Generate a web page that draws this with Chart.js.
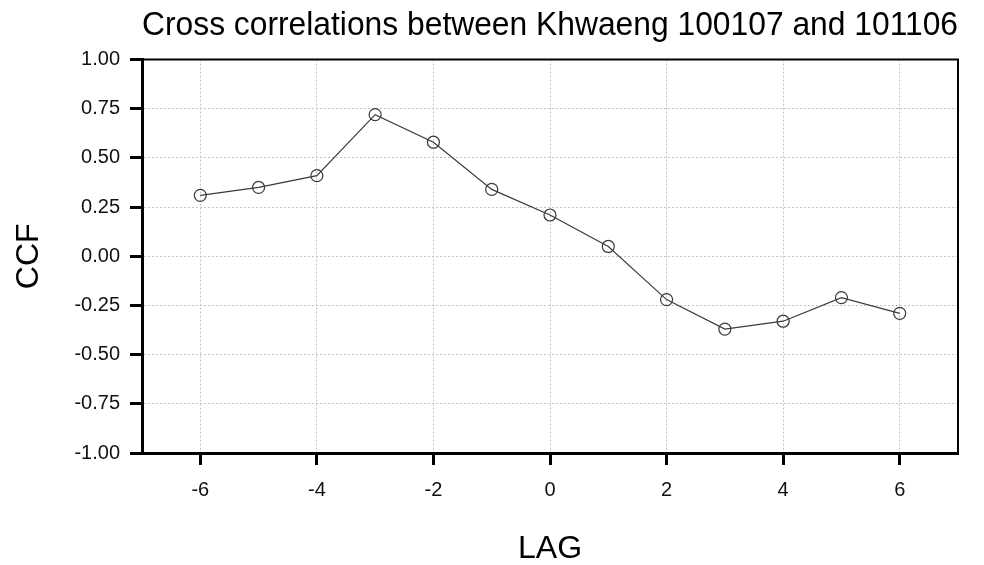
<!DOCTYPE html>
<html>
<head>
<meta charset="utf-8">
<script src="https://cdn.jsdelivr.net/npm/chart.js@4/dist/chart.umd.min.js"></script>
<style>
  html, body { margin: 0; padding: 0; background: #fff; }
  #wrap { width: 984px; height: 565px; }
</style>
</head>
<body>
<div id="wrap"><canvas id="ccfChart" width="984" height="565"></canvas></div>
<script>
// Data
const lags = [-6, -5, -4, -3, -2, -1, 0, 1, 2, 3, 4, 5, 6];
const ccf = [0.31, 0.35, 0.41, 0.72, 0.58, 0.34, 0.21, 0.05, -0.22, -0.37, -0.33, -0.21, -0.29];
const xTicks = [-6, -4, -2, 0, 2, 4, 6];
const yTicks = [-1, -0.75, -0.5, -0.25, 0, 0.25, 0.5, 0.75, 1];

const FONT = "'Liberation Sans', Arial, sans-serif";

// Closed box: top and right edges of the plot frame
const frameBox = {
  id: "frameBox",
  afterDraw(chart) {
    const { ctx, chartArea: a } = chart;
    ctx.save();
    ctx.strokeStyle = "#000";
    ctx.lineWidth = 2;
    ctx.beginPath();
    ctx.moveTo(a.left, a.top);
    ctx.lineTo(a.right, a.top);
    ctx.lineTo(a.right, a.bottom);
    ctx.stroke();
    ctx.restore();
  },
};

new Chart(document.getElementById("ccfChart"), {
  type: "scatter",
  data: {
    datasets: [
      {
        label: "CCF",
        data: lags.map((l, i) => ({ x: l, y: ccf[i] })),
        showLine: true,
        borderColor: "#3a3a3a",
        borderWidth: 1.2,
        pointRadius: 6,
        pointBorderWidth: 1.2,
        pointBorderColor: "#3a3a3a",
        pointBackgroundColor: "rgba(0,0,0,0)",
        tension: 0,
      },
    ],
  },
  options: {
    responsive: false,
    animation: false,
    layout: { padding: { left: 0, right: 26, top: 0, bottom: 0 } },
    plugins: {
      legend: { display: false },
      tooltip: { enabled: false },
      title: {
        display: true,
        fullSize: false,
        text: "Cross correlations between Khwaeng 100107 and 101106",
        color: "#000",
        font: { family: FONT, size: 33, weight: "normal", lineHeight: 1.2 },
        padding: { top: 6, bottom: 14 },
      },
    },
    scales: {
      x: {
        type: "linear",
        min: -7,
        max: 7,
        afterBuildTicks: (s) => { s.ticks = xTicks.map((v) => ({ value: v })); },
        afterFit: (s) => { s.height = 112; },
        ticks: {
          color: "#111",
          font: { family: FONT, size: 20 },
          padding: 13,
        },
        grid: {
          color: "#c4c4c4",
          lineWidth: 1,
          tickLength: 12,
          tickColor: "#000",
          tickWidth: 3,
          tickBorderDash: [],
        },
        border: { display: true, color: "#000", width: 3, dash: [2, 2] },
        title: {
          display: true,
          text: "LAG",
          color: "#000",
          font: { family: FONT, size: 32, lineHeight: 1 },
          padding: { top: 30, bottom: 0 },
        },
      },
      y: {
        type: "linear",
        min: -1,
        max: 1,
        afterBuildTicks: (s) => { s.ticks = yTicks.map((v) => ({ value: v })); },
        afterFit: (s) => { s.width = 142; },
        ticks: {
          color: "#111",
          font: { family: FONT, size: 20 },
          padding: 10,
          callback: (v) => Number(v).toFixed(2),
        },
        grid: {
          color: "#c4c4c4",
          lineWidth: 1,
          tickLength: 12,
          tickColor: "#000",
          tickWidth: 3,
          tickBorderDash: [],
        },
        border: { display: true, color: "#000", width: 3, dash: [2, 2] },
        title: {
          display: true,
          text: "CCF",
          color: "#000",
          font: { family: FONT, size: 32, lineHeight: 1 },
          padding: { top: 13, bottom: 0 },
        },
      },
    },
  },
  plugins: [frameBox],
});
</script>
</body>
</html>
